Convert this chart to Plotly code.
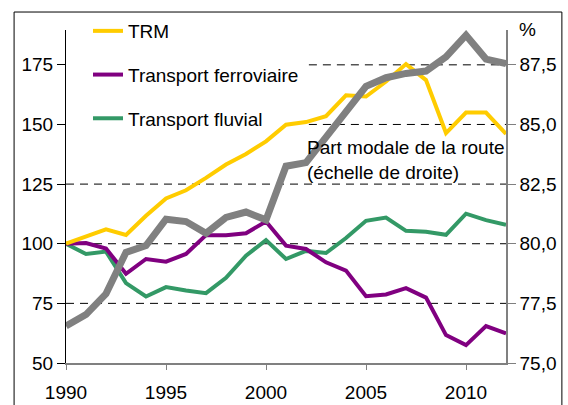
import plotly.graph_objects as go

# indices 1990 = 100, part modale de la route en %
years = list(range(1990, 2013))
trm = [100, 103, 106, 103.7, 111.7, 119, 122.4, 127.6, 133.2, 137.6, 142.9, 149.9,
       151, 153.5, 162.2, 161.7, 168, 175.3, 168.6, 146.4, 155, 155, 146]
rail = [100, 100.3, 98, 87.4, 93.6, 92.5, 95.7, 103.6, 103.6, 104.4, 109.3, 99.2,
        97.8, 92.2, 88.75, 78, 78.75, 81.4, 77.4, 61.7, 57.5, 65.5, 62.4]
fluvial = [100, 95.7, 96.7, 83.5, 77.9, 81.8, 80.4, 79.3, 85.7, 95, 101.5, 93.6,
           97, 96.1, 102.4, 109.6, 111, 105.4, 105, 103.75, 112.6, 109.9, 107.9]
road_share = [76.55, 77.03, 77.9, 79.64, 79.92, 81.03, 80.93, 80.44, 81.1, 81.33, 81.0,
              83.25, 83.4, 84.5, 85.55, 86.6, 86.96, 87.14, 87.24, 87.83, 88.74, 87.74, 87.55]

x_ticks = [1990, 1995, 2000, 2005, 2010]
left_ticks = [50, 75, 100, 125, 150, 175]
right_ticks = [75, 77.5, 80, 82.5, 85, 87.5]
right_labels = ["75,0", "77,5", "80,0", "82,5", "85,0", "87,5"]

FONT = "Liberation Sans, Arial, sans-serif"

fig = go.Figure()
fig.add_trace(go.Scatter(x=years, y=fluvial, name="Transport fluvial", mode="lines",
                         line=dict(color="#339966", width=4), legendgroup="c", legendrank=3))
fig.add_trace(go.Scatter(x=years, y=rail, name="Transport ferroviaire", mode="lines",
                         line=dict(color="#800080", width=4), legendgroup="b", legendrank=2))
fig.add_trace(go.Scatter(x=years, y=trm, name="TRM", mode="lines",
                         line=dict(color="#FFCC00", width=4), legendgroup="a", legendrank=1))
fig.add_trace(go.Scatter(x=years, y=road_share, name="Part modale de la route", mode="lines",
                         line=dict(color="#808080", width=7), yaxis="y2", showlegend=False))

# dashed gridlines, hidden behind the legend for the top two
for v in left_ticks[1:]:
    fig.add_shape(type="line", xref="paper", yref="y", x0=0.552 if v >= 150 else 0, x1=1,
                  y0=v, y1=v, line=dict(color="black", width=1, dash="8px,6px"), layer="below")

# outer frame
fig.add_shape(type="rect", xref="paper", yref="paper", x0=-0.118, x1=1.127, y0=-0.2, y1=1.054,
              line=dict(color="black", width=1))

fig.add_annotation(x=2001.95, y=83.5, xref="x", yref="y2", xanchor="left", yanchor="middle",
                   align="left", showarrow=False,
                   text="Part modale de la route<br>(échelle de droite)",
                   font=dict(size=19, color="black", family=FONT))
fig.add_annotation(x=1.048, y=1.003, xref="paper", yref="paper", xanchor="center",
                   yanchor="middle", showarrow=False,
                   text="%", font=dict(size=19, color="black", family=FONT))

fig.update_layout(
    width=568, height=405,
    margin=dict(l=66, r=62, t=28, b=42),
    paper_bgcolor="white", plot_bgcolor="white",
    font=dict(family=FONT, size=19, color="black"),
    legend=dict(x=0.05, y=1.054, xanchor="left", yanchor="top", bgcolor="rgba(0,0,0,0)",
                font=dict(size=19), tracegroupgap=16, traceorder="grouped"),
    xaxis=dict(range=[1990, 2012], tickvals=x_ticks, showgrid=False, zeroline=False,
               showline=True, linecolor="#808080", linewidth=1.5, automargin=False,
               ticks="outside", ticklen=5, tickcolor="#808080", ticklabelstandoff=6),
    yaxis=dict(range=[50, 189.6], tickvals=left_ticks, showgrid=False, zeroline=False,
               showline=True, linecolor="black", linewidth=1, automargin=False,
               ticks="outside", ticklen=8, tickcolor="black"),
    yaxis2=dict(range=[75, 88.96], overlaying="y", side="right", tickvals=right_ticks,
                ticktext=right_labels, showgrid=False, zeroline=False, automargin=False,
                showline=True, linecolor="#808080", linewidth=1.5,
                ticks="outside", ticklen=8, tickcolor="#808080"),
)

# page body margin off so the chart sits at the window origin
fig.write_html("out.html", config={"displayModeBar": False},
               post_script="document.body.style.margin='0';")
